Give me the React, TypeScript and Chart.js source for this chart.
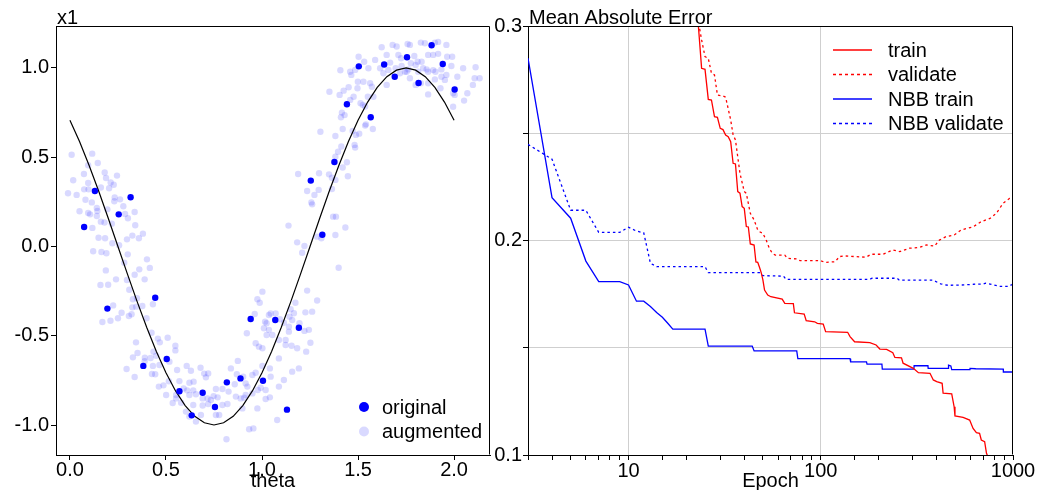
import React, { useEffect, useRef } from 'react';
import { Chart, registerables } from 'chart.js';

Chart.register(...registerables);

const FONT_FAMILY = '"Liberation Sans", Arial, sans-serif';
const FONT_SIZE = 20;

// ---------- Left panel: x1 vs theta ----------
const thetaTicks = [0, 0.5, 1.0, 1.5, 2.0];
const x1Ticks = [-1.0, -0.5, 0, 0.5, 1.0];

const curveTheta = [0, 0.05, 0.1, 0.15, 0.2, 0.25, 0.3, 0.35, 0.4, 0.45, 0.5, 0.55, 0.6, 0.65, 0.7, 0.75, 0.8, 0.85, 0.9, 0.95, 1.0,
  1.05, 1.1, 1.15, 1.2, 1.25, 1.3, 1.35, 1.4, 1.45, 1.5, 1.55, 1.6, 1.65, 1.7, 1.75, 1.8, 1.85, 1.9, 1.95, 2.0];
const curveX1 = [0.7071, 0.5878, 0.454, 0.309, 0.1564, 0, -0.1564, -0.309, -0.454, -0.5878, -0.7071, -0.809, -0.891, -0.9511, -0.9877, -1,
  -0.9877, -0.9511, -0.891, -0.809, -0.7071, -0.5878, -0.454, -0.309, -0.1564, 0, 0.1564, 0.309, 0.454, 0.5878, 0.7071, 0.809, 0.891,
  0.9511, 0.9877, 1, 0.9877, 0.9511, 0.891, 0.809, 0.7071];

const originalPoints: [number, number][] = [
  [0.130, 0.311], [0.316, 0.276], [0.254, 0.180], [0.074, 0.109], [1.314, 0.066], [1.254, 0.369], [1.377, 0.473], [1.566, 0.724],
  [1.442, 0.797], [1.504, 1.009], [1.636, 1.019], [1.691, 0.951], [1.755, 1.060], [1.815, 0.916], [1.883, 1.127], [1.941, 1.022],
  [2.003, 0.879], [0.195, -0.348], [0.444, -0.287], [0.382, -0.669], [0.504, -0.630], [0.570, -0.811], [0.634, -0.946], [0.691, -0.819],
  [0.755, -0.899], [0.817, -0.761], [0.888, -0.739], [0.941, -0.406], [1.005, -0.752], [1.069, -0.412], [1.130, -0.914], [1.192, -0.455],
];

const augmentedPoints: [number, number][] = [
  [0.009, 0.514], [0.116, 0.520], [0.095, 0.455], [0.145, 0.468], [0.073, 0.406], [0.181, 0.414], [0.245, 0.397], [0.017, 0.371],
  [0.095, 0.356], [0.188, 0.384], [0.212, 0.358], [0.228, 0.346], [0.074, 0.320], [0.097, 0.320], [0.161, 0.330], [0.204, 0.326],
  [-0.010, 0.298], [0.035, 0.289], [0.081, 0.262], [0.114, 0.247], [0.233, 0.274], [0.231, 0.253], [0.261, 0.264], [0.140, 0.216],
  [0.278, 0.225], [0.050, 0.197], [0.095, 0.188], [0.105, 0.180], [0.143, 0.199], [0.195, 0.208], [0.337, 0.193], [0.140, 0.171],
  [0.287, 0.182], [0.302, 0.158], [0.161, 0.139], [0.180, 0.134], [0.218, 0.128], [0.117, 0.104], [0.340, 0.119], [0.380, 0.072],
  [0.325, 0.061], [0.359, 0.046], [0.149, 0.049], [0.183, 0.046], [0.297, 0.040], [0.221, 0.018], [0.256, 0.007], [0.121, -0.027],
  [0.164, -0.031], [0.190, -0.038], [0.301, -0.044], [0.401, -0.072], [0.283, -0.091], [0.361, -0.128], [0.416, -0.120], [0.187, -0.134],
  [0.337, -0.158], [0.240, -0.184], [0.297, -0.188], [0.389, -0.184], [0.159, -0.216], [0.199, -0.214], [0.309, -0.242], [0.328, -0.296],
  [0.349, -0.290],
  [0.225, -0.330], [0.325, -0.341], [0.345, -0.337], [0.377, -0.333], [0.432, -0.324], [0.269, -0.371], [0.250, -0.402], [0.169, -0.423],
  [0.211, -0.416], [0.307, -0.389], [0.321, -0.380], [0.399, -0.402], [0.425, -0.483], [0.458, -0.516], [0.509, -0.511], [0.344, -0.537],
  [0.352, -0.597], [0.435, -0.589], [0.468, -0.537], [0.549, -0.556], [0.549, -0.582], [0.328, -0.621], [0.390, -0.623], [0.420, -0.625],
  [0.449, -0.612], [0.295, -0.686], [0.337, -0.731], [0.389, -0.643], [0.432, -0.669], [0.466, -0.664], [0.518, -0.645], [0.427, -0.714],
  [0.444, -0.716], [0.463, -0.785], [0.487, -0.778], [0.515, -0.755], [0.501, -0.832], [0.535, -0.877], [0.553, -0.832], [0.558, -0.692],
  [0.608, -0.669], [0.630, -0.696], [0.680, -0.679], [0.699, -0.712], [0.720, -0.711], [0.708, -0.733], [0.622, -0.763], [0.644, -0.757],
  [0.570, -0.754], [0.592, -0.795], [0.610, -0.806], [0.642, -0.806], [0.656, -0.828], [0.553, -0.851], [0.579, -0.875], [0.622, -0.832],
  [0.691, -0.851], [0.717, -0.851], [0.734, -0.860], [0.748, -0.838], [0.769, -0.845], [0.760, -0.798], [0.794, -0.798], [0.826, -0.813],
  [0.858, -0.772], [0.874, -0.641], [0.838, -0.683], [0.869, -0.716], [0.902, -0.729], [0.915, -0.767], [0.924, -0.785], [0.950, -0.720],
  [0.967, -0.707], [1.002, -0.669], [0.907, -0.847], [0.864, -0.841], [0.889, -0.851], [0.915, -0.832], [0.950, -0.823], [0.978, -0.804],
  [0.993, -0.791], [1.019, -0.804], [1.041, -0.683], [1.045, -0.729], [1.114, -0.748], [1.088, -0.785], [1.041, -0.845], [1.019, -0.854],
  [0.976, -0.907], [0.898, -0.907], [0.820, -0.882], [0.794, -0.888], [0.777, -0.944], [0.760, -0.944], [0.720, -0.882], [0.691, -0.891],
  [0.642, -0.888], [0.604, -0.925], [0.656, -0.981], [0.682, -0.944], [0.622, -0.953], [0.815, -1.080], [0.933, -1.024], [0.955, -1.019],
  [1.079, -0.972],
  [0.967, -0.542], [0.984, -0.561], [1.002, -0.570], [1.024, -0.496], [1.010, -0.458], [1.036, -0.467], [1.054, -0.496], [1.088, -0.524],
  [1.088, -0.627], [1.123, -0.524], [1.140, -0.477], [1.123, -0.552], [1.154, -0.556], [1.183, -0.570], [1.157, -0.701], [1.192, -0.683],
  [1.230, -0.589], [1.252, -0.539], [1.244, -0.467], [1.221, -0.473], [1.195, -0.430], [1.157, -0.412], [1.166, -0.374], [1.226, -0.369],
  [1.261, -0.365], [1.287, -0.303], [1.235, -0.247], [1.002, -0.253], [0.976, -0.296], [0.988, -0.315], [1.036, -0.384], [1.045, -0.375],
  [1.071, -0.375], [1.024, -0.430], [1.016, -0.421], [0.962, -0.378], [0.921, -0.486], [1.149, -0.352], [1.174, -0.315], [1.093, -0.408],
  [1.114, -0.427], [1.143, -0.393], [1.140, -0.449],
  [1.408, 0.987], [1.459, 0.979], [1.485, 0.989], [1.465, 0.961], [1.503, 1.063], [1.532, 1.035], [1.554, 0.998], [1.589, 1.045],
  [1.615, 0.998], [1.632, 0.970], [1.658, 0.989], [1.696, 0.998], [1.718, 0.970], [1.744, 0.979], [1.451, 0.892], [1.425, 0.873],
  [1.404, 0.849], [1.351, 0.867], [1.499, 0.923], [1.528, 0.923], [1.497, 0.886], [1.563, 0.914], [1.572, 0.895], [1.580, 0.839],
  [1.551, 0.839], [1.477, 0.839], [1.459, 0.821], [1.649, 0.905], [1.513, 0.802], [1.525, 0.793], [1.537, 0.784], [1.416, 0.750],
  [1.430, 0.736], [1.411, 0.724], [1.541, 0.684], [1.537, 0.677], [1.577, 0.658], [1.304, 0.643], [1.382, 0.619], [1.420, 0.658],
  [1.472, 0.647], [1.489, 0.625], [1.506, 0.632], [1.482, 0.569], [1.485, 0.554], [1.413, 0.560], [1.396, 0.531], [1.382, 0.503],
  [1.442, 0.472], [1.420, 0.442], [1.188, 0.406], [1.297, 0.410], [1.349, 0.404], [1.364, 0.385], [1.382, 0.373], [1.447, 0.393],
  [1.235, 0.311], [1.273, 0.289], [1.295, 0.317], [1.364, 0.322], [1.257, 0.247], [1.261, 0.236], [1.370, 0.167], [1.385, 0.167],
  [1.138, 0.117], [1.434, 0.106], [1.287, 0.055], [1.309, 0.046], [1.382, 0.064], [1.183, 0.023], [1.221, 0.003], [1.209, -0.035],
  [1.399, -0.119],
  [1.623, 1.116], [1.680, 1.129], [1.701, 1.120], [1.758, 1.134], [1.770, 1.129], [1.827, 1.142], [1.848, 1.138], [1.917, 1.146],
  [1.960, 1.129], [1.900, 1.142], [1.649, 1.073], [1.710, 1.073], [1.724, 1.054], [1.667, 1.030], [1.727, 1.011], [1.753, 0.979],
  [1.793, 1.067], [1.810, 1.035], [1.831, 1.035], [1.865, 1.073], [1.891, 1.073], [1.917, 1.079], [1.964, 1.063], [1.990, 1.063],
  [1.775, 1.026], [1.800, 1.017], [1.839, 0.998], [1.857, 0.992], [1.865, 0.979], [1.891, 0.988], [1.903, 0.979], [1.762, 0.992],
  [1.813, 0.979], [1.934, 0.951], [1.952, 0.933], [1.986, 1.011], [1.934, 0.992], [1.960, 0.961], [2.017, 0.951], [2.047, 0.998],
  [2.112, 1.004], [2.107, 0.942], [2.133, 0.942], [2.098, 0.905], [2.069, 0.858], [2.052, 0.817], [1.995, 0.783], [1.995, 0.858],
  [2.003, 0.849], [1.929, 0.886], [1.865, 0.852], [1.900, 0.936], [1.865, 0.914], [1.800, 0.905], [1.827, 0.914], [1.770, 0.942],
];

// ---------- Right panel: Mean Absolute Error vs Epoch ----------
const maeTicks = [0.1, 0.15, 0.2, 0.25, 0.3];
const maeLabels = [0.1, 0.2, 0.3];
const epochLabels = [10, 100, 1000];

const trainMAE: [number, number][] = [
  [21, 0.36], [23, 0.302], [24, 0.2803], [25, 0.2798], [26, 0.2658], [27, 0.2655], [28, 0.2577], [29, 0.2574], [30, 0.2523],
  [31, 0.2517], [32, 0.2492], [33, 0.2484], [34, 0.2461], [35, 0.236], [36, 0.2357], [37, 0.2228], [38, 0.2221], [39, 0.2158],
  [40, 0.215], [41, 0.2065], [42, 0.2063], [43, 0.1984], [45, 0.1979], [46, 0.19], [47, 0.1898], [48, 0.1875], [49, 0.185],
  [50, 0.1816], [51, 0.1769], [53, 0.1746], [55, 0.1738], [63, 0.1727], [65, 0.1707], [72, 0.1706], [73, 0.1663], [82, 0.1657],
  [84, 0.1626], [93, 0.1621], [96, 0.1614], [103, 0.161], [106, 0.1575], [138, 0.1572], [142, 0.1552], [150, 0.1528], [180, 0.1524],
  [194, 0.1513], [203, 0.1494], [220, 0.1492], [237, 0.1477], [243, 0.1455], [263, 0.1453], [268, 0.1428], [303, 0.1404],
  [322, 0.1384], [370, 0.1381], [385, 0.135], [401, 0.1342], [428, 0.1334], [433, 0.1288], [480, 0.1285], [494, 0.1225],
  [499, 0.1182], [550, 0.1175], [595, 0.1163], [620, 0.1124], [645, 0.1104], [670, 0.1101], [684, 0.107], [712, 0.1062],
  [728, 0.1008], [745, 0.0985], [800, 0.094], [1000, 0.088],
];

const validateMAE: [number, number][] = [
  [21, 0.36], [23, 0.303], [24, 0.2935], [25, 0.2857], [26, 0.2849], [27, 0.278], [28, 0.2772], [29, 0.2678], [31, 0.2674],
  [32, 0.2668], [34, 0.2562], [35, 0.2492], [36, 0.2469], [38, 0.2313], [40, 0.2228], [41, 0.222], [43, 0.2127], [45, 0.2096],
  [47, 0.2049], [48, 0.2041], [50, 0.2033], [52, 0.2002], [54, 0.1964], [56, 0.194], [58, 0.1932], [65, 0.1932], [67, 0.1917],
  [75, 0.1914], [78, 0.1906], [100, 0.1906], [105, 0.1898], [119, 0.1901], [125, 0.1925], [133, 0.1928], [172, 0.1922],
  [183, 0.1936], [211, 0.1936], [237, 0.1956], [258, 0.1948], [290, 0.1964], [327, 0.1968], [354, 0.1979], [391, 0.1974],
  [414, 0.2002], [448, 0.2018], [495, 0.2026], [537, 0.2049], [620, 0.2064], [684, 0.2088], [759, 0.2103], [820, 0.2127],
  [887, 0.2173], [961, 0.2197], [1000, 0.2204],
];

const nbbTrainMAE: [number, number][] = [
  [3, 0.285], [4, 0.22], [5, 0.2104], [6, 0.1904], [7, 0.1808], [9, 0.1808], [10, 0.1793], [11, 0.1717], [12, 0.1717],
  [13, 0.1692], [14, 0.1664], [15, 0.1642], [16, 0.1614], [17, 0.1587], [25, 0.1587], [26, 0.1508], [44, 0.1508], [45, 0.1485],
  [75, 0.1485], [76, 0.1449], [142, 0.1449], [143, 0.1434], [173, 0.1434], [174, 0.1424], [208, 0.1424], [209, 0.14], [305, 0.14],
  [306, 0.1416], [361, 0.1416], [362, 0.1404], [460, 0.1404], [462, 0.1419], [475, 0.1415], [480, 0.1398], [597, 0.1398],
  [598, 0.1404], [640, 0.1402], [890, 0.14], [891, 0.1387], [1000, 0.1387],
];

const nbbValidateMAE: [number, number][] = [
  [3, 0.2448], [4, 0.2379], [5, 0.2141], [6, 0.2141], [7, 0.2038], [9, 0.2038], [10, 0.2062], [11, 0.2044], [12, 0.2036],
  [13, 0.1894], [14, 0.1878], [25, 0.1878], [26, 0.185], [48, 0.185], [50, 0.1836], [64, 0.1834], [66, 0.1819], [180, 0.1819],
  [185, 0.1824], [250, 0.1824], [256, 0.1815], [384, 0.1815], [420, 0.1798], [460, 0.1791], [560, 0.1793], [625, 0.1796],
  [700, 0.1797], [720, 0.1801], [760, 0.1797], [850, 0.1786], [950, 0.1786], [990, 0.1795], [1000, 0.18],
];

const RED = '#ff0000';
const BLUE = '#0000ff';
const AUG = 'rgba(0,0,255,0.15)';

const font = { family: FONT_FAMILY, size: FONT_SIZE };
const near = (a: number, b: number) => Math.abs(a - b) < 1e-9;

const framePlugin = {
  id: 'frame',
  afterDraw(chart: any) {
    const { ctx, chartArea: a } = chart;
    ctx.save();
    ctx.strokeStyle = '#000';
    ctx.lineWidth = 1;
    ctx.beginPath();
    const l = Math.round(a.left) + 0.5;
    const r = Math.round(a.right) - 0.5;
    const t = Math.round(a.top) + 0.5;
    const b = Math.round(a.bottom) - 0.5;
    ctx.moveTo(l, t);
    ctx.lineTo(r, t);
    ctx.lineTo(r, b);
    ctx.stroke();
    ctx.restore();
  },
};

function headerPlugin(text: string) {
  return {
    id: 'header',
    afterDraw(chart: any) {
      const { ctx, chartArea: a } = chart;
      ctx.save();
      ctx.font = `${FONT_SIZE}px ${FONT_FAMILY}`;
      ctx.fillStyle = '#000';
      ctx.textAlign = 'left';
      ctx.textBaseline = 'alphabetic';
      ctx.fillText(text, a.left + 1, a.top - 2);
      ctx.restore();
    },
  };
}

const pointLegendPlugin = {
  id: 'pointLegend',
  afterDraw(chart: any) {
    const { ctx, chartArea: a } = chart;
    const items = [
      { label: 'original', color: BLUE },
      { label: 'augmented', color: AUG },
    ];
    ctx.save();
    ctx.font = `${FONT_SIZE}px ${FONT_FAMILY}`;
    ctx.textBaseline = 'middle';
    ctx.textAlign = 'left';
    items.forEach((it, i) => {
      const y = a.bottom - 48 + i * 24.5;
      const x = a.left + 308;
      ctx.fillStyle = it.color;
      ctx.beginPath();
      ctx.arc(x, y, 5, 0, Math.PI * 2);
      ctx.fill();
      ctx.fillStyle = '#000';
      ctx.fillText(it.label, x + 18, y + 1);
    });
    ctx.restore();
  },
};

const lineLegendPlugin = {
  id: 'lineLegend',
  afterDraw(chart: any) {
    const { ctx, chartArea: a } = chart;
    const items = [
      { label: 'train', color: RED, dash: [] as number[] },
      { label: 'validate', color: RED, dash: [3, 3] },
      { label: 'NBB train', color: BLUE, dash: [] as number[] },
      { label: 'NBB validate', color: BLUE, dash: [3, 3] },
    ];
    ctx.save();
    ctx.font = `${FONT_SIZE}px ${FONT_FAMILY}`;
    ctx.textBaseline = 'middle';
    ctx.textAlign = 'left';
    items.forEach((it, i) => {
      const y = a.top + 24 + i * 24.5;
      const x0 = a.left + 305;
      ctx.strokeStyle = it.color;
      ctx.lineWidth = 1.3;
      ctx.setLineDash(it.dash);
      ctx.beginPath();
      ctx.moveTo(x0, y);
      ctx.lineTo(x0 + 39, y);
      ctx.stroke();
      ctx.setLineDash([]);
      ctx.fillStyle = '#000';
      ctx.fillText(it.label, x0 + 55, y + 1);
    });
    ctx.restore();
  },
};

function leftConfig(): any {
  return {
    type: 'scatter',
    data: {
      datasets: [
        {
          label: 'original',
          data: originalPoints.map(([t, v]) => ({ x: t, y: v })),
          backgroundColor: BLUE,
          borderWidth: 0,
          pointRadius: 3.2,
          order: 0,
        },
        {
          label: 'true curve',
          data: curveTheta.map((t, i) => ({ x: t, y: curveX1[i] })),
          showLine: true,
          borderColor: '#000',
          borderWidth: 1.2,
          pointRadius: 0,
          fill: false,
          order: 1,
        },
        {
          label: 'augmented',
          data: augmentedPoints.map(([t, v]) => ({ x: t, y: v })),
          backgroundColor: AUG,
          borderWidth: 0,
          pointRadius: 3.2,
          order: 2,
        },
      ],
    },
    options: {
      responsive: false,
      animation: false,
      events: [],
      layout: { padding: { top: 26, right: 2, left: 0, bottom: 0 } },
      plugins: { legend: { display: false }, tooltip: { enabled: false } },
      scales: {
        x: {
          type: 'linear',
          min: -0.0725,
          max: 2.187,
          afterBuildTicks: (s: any) => { s.ticks = thetaTicks.map((v) => ({ value: v })); },
          afterFit: (s: any) => { s.height = 35; },
          grid: { display: true, drawOnChartArea: false, drawTicks: true, tickLength: 5, color: '#000' },
          border: { display: true, color: '#000', width: 1 },
          ticks: { callback: (v: any) => Number(v).toFixed(1), font, color: '#000', padding: -2, maxRotation: 0, autoSkip: false },
          title: { display: true, text: 'theta', font, color: '#000', padding: { top: 0, bottom: -3 } },
        },
        y: {
          type: 'linear',
          min: -1.168,
          max: 1.235,
          afterBuildTicks: (s: any) => { s.ticks = x1Ticks.map((v) => ({ value: v })); },
          afterFit: (s: any) => { s.width = 56; },
          grid: { display: true, drawOnChartArea: false, drawTicks: true, tickLength: 5, color: '#000' },
          border: { display: true, color: '#000', width: 1 },
          ticks: { callback: (v: any) => Number(v).toFixed(1), font, color: '#000', padding: 2, autoSkip: false },
        },
      },
    },
    plugins: [framePlugin, headerPlugin('x1'), pointLegendPlugin],
  };
}

function lineSet(label: string, pts: [number, number][], color: string, dashed: boolean) {
  return {
    label,
    data: pts.map(([e, v]) => ({ x: e, y: v })),
    borderColor: color,
    backgroundColor: color,
    borderWidth: 1.3,
    borderDash: dashed ? [2.5, 3] : [],
    pointRadius: 0,
    fill: false,
    tension: 0,
  };
}

function rightConfig(): any {
  return {
    type: 'line',
    data: {
      datasets: [
        lineSet('train', trainMAE, RED, false),
        lineSet('validate', validateMAE, RED, true),
        lineSet('NBB train', nbbTrainMAE, BLUE, false),
        lineSet('NBB validate', nbbValidateMAE, BLUE, true),
      ],
    },
    options: {
      responsive: false,
      animation: false,
      events: [],
      layout: { padding: { top: 26, right: 24, left: 0, bottom: 0 } },
      plugins: { legend: { display: false }, tooltip: { enabled: false } },
      scales: {
        x: {
          type: 'logarithmic',
          min: 3,
          max: 1000,
          afterFit: (s: any) => { s.height = 35; },
          grid: {
            display: true,
            drawTicks: true,
            tickLength: 5,
            color: (c: any) => (c.tick && (near(c.tick.value, 10) || near(c.tick.value, 100)) ? '#cfcfcf' : 'rgba(0,0,0,0)'),
            tickColor: '#000',
          },
          border: { display: true, color: '#000', width: 1 },
          ticks: {
            callback: (v: any) => (epochLabels.some((e) => near(e, Number(v))) ? String(v) : ''),
            font, color: '#000', padding: -1, maxRotation: 0, autoSkip: false,
          },
          title: { display: true, text: 'Epoch', font, color: '#000', padding: { top: 0, bottom: -3 } },
        },
        y: {
          type: 'linear',
          min: 0.1,
          max: 0.3,
          afterBuildTicks: (s: any) => { s.ticks = maeTicks.map((v) => ({ value: v })); },
          afterFit: (s: any) => { s.width = 34; },
          grid: {
            display: true,
            drawTicks: true,
            tickLength: 5,
            color: (c: any) => (c.tick && (near(c.tick.value, 0.1) || near(c.tick.value, 0.3)) ? 'rgba(0,0,0,0)' : '#cfcfcf'),
            tickColor: '#000',
          },
          border: { display: true, color: '#000', width: 1 },
          ticks: {
            callback: (v: any) => (maeLabels.some((m) => near(m, Number(v))) ? Number(v).toFixed(1) : ''),
            font, color: '#000', padding: 1, autoSkip: false,
          },
        },
      },
    },
    plugins: [framePlugin, headerPlugin('Mean Absolute Error'), lineLegendPlugin],
  };
}

export default function App() {
  const leftRef = useRef<HTMLCanvasElement>(null);
  const rightRef = useRef<HTMLCanvasElement>(null);

  useEffect(() => {
    const c1 = new Chart(leftRef.current as HTMLCanvasElement, leftConfig());
    const c2 = new Chart(rightRef.current as HTMLCanvasElement, rightConfig());
    return () => {
      c1.destroy();
      c2.destroy();
    };
  }, []);

  return (
    <div style={{ position: 'absolute', left: 0, top: 0, width: 1037, height: 490, background: '#fff' }}>
      <canvas ref={leftRef} width={494} height={490} style={{ position: 'absolute', left: 0, top: 0 }} />
      <canvas ref={rightRef} width={543} height={490} style={{ position: 'absolute', left: 494, top: 0 }} />
    </div>
  );
}
